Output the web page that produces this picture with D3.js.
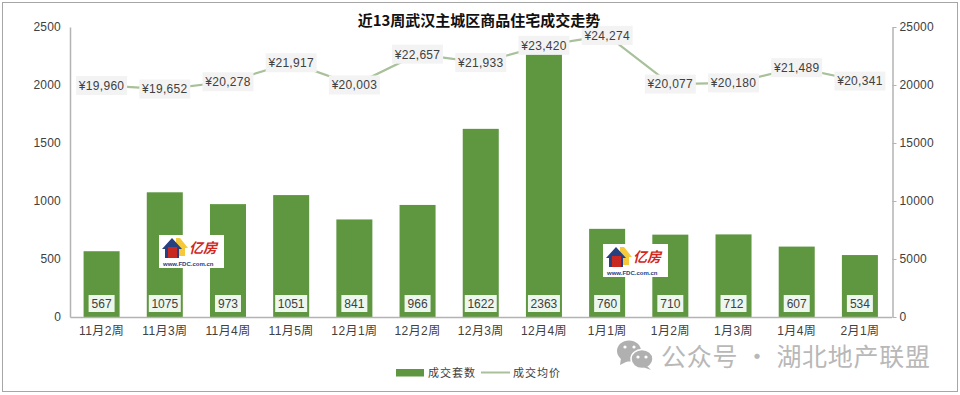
<!DOCTYPE html>
<html><head><meta charset="utf-8">
<style>
html,body{margin:0;padding:0;background:#fff}
svg{display:block}
text{font-family:"Liberation Sans","Noto Sans CJK SC",sans-serif;fill:#404040;font-size:12px}
.axis .domain{stroke:#b3b3b3;stroke-width:1.5}
.axis line{stroke:#b3b3b3}
</style>
<script src="https://cdn.jsdelivr.net/npm/d3@7"></script>
</head><body><svg id="c" width="960" height="395"></svg>
<script>
const categories=["11月2周","11月3周","11月4周","11月5周","12月1周","12月2周","12月3周","12月4周","1月1周","1月2周","1月3周","1月4周","2月1周"];
// Printed labels
const unitLabels=[567,1075,973,1051,841,966,1622,2363,760,710,712,607,534];
// Bar heights as drawn in the picture (the 12月4周 bar stands lower than its printed label)
const unitBars=[567,1075,973,1051,841,966,1622,2265,760,710,712,607,534];
const prices=[19960,19652,20278,21917,20003,22657,21933,23420,24274,20077,20180,21489,20341];
const leftTicks=[0,500,1000,1500,2000,2500];
const rightTicks=[0,5000,10000,15000,20000,25000];
const seriesNames=["成交套数","成交均价"];
const title="近13周武汉主城区商品住宅成交走势";
const watermark="公众号 · 湖北地产联盟";

const M={l:70,r:892.5,t:27,b:317};
const svg=d3.select("#c");
const barColor="#5f9640",lineColor="#a9c19a";
svg.append("rect").attr("x",2.5).attr("y",2.5).attr("width",955).attr("height",389).attr("fill","#fff").attr("stroke","#a6a6a6").attr("stroke-width",1);

const x=d3.scaleBand().domain(categories).range([M.l,M.r-1]).paddingInner(0.43).paddingOuter(0.215);
const cx=d=>x(d)+x.bandwidth()/2;
const yL=d3.scaleLinear().domain([0,2500]).range([M.b,M.t]);
const yR=d3.scaleLinear().domain([0,25000]).range([M.b,M.t]);

// bars
svg.append("g").selectAll("rect").data(categories).join("rect")
 .attr("x",d=>x(d)).attr("width",x.bandwidth())
 .attr("y",(d,i)=>yL(unitBars[i])).attr("height",(d,i)=>M.b-yL(unitBars[i]))
 .attr("fill",barColor);

// axes
const ax=svg.append("g").attr("class","axis").attr("transform",`translate(${M.l},0)`)
 .call(d3.axisLeft(yL).tickValues(leftTicks).tickFormat(d3.format("d")).tickSize(0).tickPadding(9));
ax.selectAll("text").style("font-size","12px").style("letter-spacing","0.2px");
const ar=svg.append("g").attr("class","axis").attr("transform",`translate(${M.r},0)`)
 .call(d3.axisRight(yR).tickValues(rightTicks).tickFormat(d3.format("d")).tickSizeInner(4).tickSizeOuter(0).tickPadding(3));
ar.selectAll("text").style("font-size","12px").style("letter-spacing","0.2px");
const ab=svg.append("g").attr("class","axis").attr("transform",`translate(0,${M.b})`)
 .call(d3.axisBottom(x).tickSize(0).tickPadding(9));
ab.selectAll("text").style("font-size","12px").style("letter-spacing","0.4px");

// line
const line=d3.line().x((d,i)=>cx(categories[i])).y(d=>yR(d));
svg.append("path").datum(prices).attr("d",line).attr("fill","none").attr("stroke",lineColor).attr("stroke-width",2.2);

// price labels
const pl=svg.append("g").selectAll("g").data(prices).join("g")
 .attr("transform",(d,i)=>`translate(${cx(categories[i])},${yR(d)})`);
pl.append("rect").attr("x",-25.5).attr("y",-9.5).attr("width",51).attr("height",19).attr("fill","#f3f3f3");
pl.append("text").attr("text-anchor","middle").attr("dy","0.36em").style("letter-spacing","0.3px").text(d=>"¥"+d3.format(",")(d));

// bar labels
const bl=svg.append("g").selectAll("g").data(unitLabels).join("g")
 .attr("transform",(d,i)=>`translate(${cx(categories[i])},303.5)`);
bl.append("rect").attr("x",d=>String(d).length>3?-16:-13).attr("y",-8.5)
 .attr("width",d=>String(d).length>3?32:26).attr("height",17).attr("fill","#eef7ee");
bl.append("text").attr("text-anchor","middle").attr("dy","0.36em").text(d=>d);

// title
svg.append("text").attr("x",479).attr("y",26).attr("text-anchor","middle")
 .style("font-size","15px").style("font-weight","700").style("fill","#111")
 .style("font-family",'"Noto Sans CJK SC",sans-serif').text(title);

// legend
svg.append("rect").attr("x",396).attr("y",369).attr("width",28).attr("height",7.5).attr("fill",barColor);
svg.append("text").attr("x",428).attr("y",377).style("letter-spacing","1px").style("font-size","11px").text(seriesNames[0]);
svg.append("line").attr("x1",481).attr("x2",510).attr("y1",372.5).attr("y2",372.5).attr("stroke",lineColor).attr("stroke-width",2);
svg.append("text").attr("x",513).attr("y",377).style("letter-spacing","1px").style("font-size","11px").text(seriesNames[1]);

// logos
function logo(px,py){
 const g=svg.append("g").attr("transform",`translate(${px},${py})`);
 g.append("rect").attr("width",65).attr("height",33).attr("fill","#fff");
 g.append("path").attr("d","M17 3 L21 3 L29 13 L26 13 L26 21 L17 21 Z").attr("fill","#f5c93a");
 g.append("path").attr("d","M3 14 L13 3 L23 14 L20 14 L20 23 L6 23 L6 14 Z").attr("fill","#27407f");
 g.append("rect").attr("x",9).attr("y",12).attr("width",9).attr("height",11).attr("fill","#c8281f");
 g.append("text").attr("x",30).attr("y",18).style("font-size","14px").style("font-weight","700").style("font-style","italic")
  .style("fill","#d0281e").style("font-family",'"Noto Sans CJK SC",sans-serif').text("亿房");
 g.append("text").attr("x",4).attr("y",31).style("font-size","6px").style("font-weight","700").style("fill","#27407f").text("www.FDC.com.cn");
}
logo(159,235);
logo(603,244);

// watermark
const w=svg.append("g");
w.append("ellipse").attr("cx",629).attr("cy",351).attr("rx",12).attr("ry",10.5).attr("fill","#b0b0b0");
w.append("path").attr("d","M621 358 L620 365 L628 361 Z").attr("fill","#b0b0b0");
w.append("ellipse").attr("cx",642).attr("cy",359).attr("rx",11).attr("ry",9.5).attr("fill","#b0b0b0").attr("stroke","#fff").attr("stroke-width",1.5);
w.append("path").attr("d","M647 366 L651 370 L643 367 Z").attr("fill","#b0b0b0");
[[625,347],[634,347],[638,357],[646,357]].forEach(p=>w.append("circle").attr("cx",p[0]).attr("cy",p[1]).attr("r",1.6).attr("fill","#fff"));
svg.append("text").attr("x",661).attr("y",366).style("font-size","25px").style("letter-spacing","0.7px")
 .style("fill","#b8b8b8").style("font-family",'"Noto Sans CJK SC",sans-serif').text(watermark);
</script></body></html>
